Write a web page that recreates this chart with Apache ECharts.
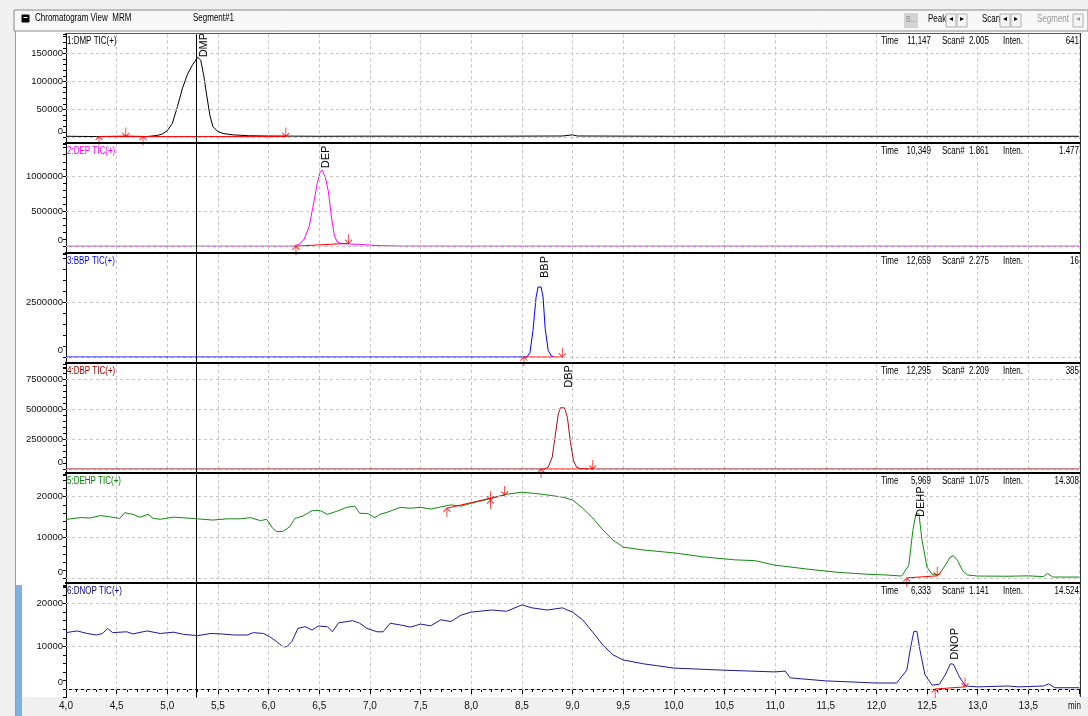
<!DOCTYPE html>
<html><head><meta charset="utf-8">
<script src="https://cdn.jsdelivr.net/npm/echarts@6/dist/echarts.min.js"></script>
<style>html,body{margin:0;padding:0;background:#f0f0f0}#c{width:1088px;height:716px}</style>
</head><body><div id="c"></div>
<script>
// ---------------- DATA ----------------
const panelNames = ['1:DMP TIC(+)','2:DEP TIC(+)','3:BBP TIC(+)','4:DBP TIC(+)','5:DEHP TIC(+)','6:DNOP TIC(+)'];
const panelTime = ['11,147','10,349','12,659','12,295','5,969','6,333'];
const panelScan = ['2.005','1.861','2.275','2.209','1.075','1.141'];
const panelInten = ['641','1.477','16','385','14.308','14.524'];
const yTickLabels = [
  [0,50000,100000,150000],
  [0,500000,1000000],
  [0,2500000],
  [0,2500000,5000000,7500000],
  [0,10000,20000],
  [0,10000,20000]
];
const yMin = [-10000,-100000,-500000,-500000,-2000,-2000];
const yMax = [184000,1450000,4680000,8750000,25500,24300];
const yStep = [10000,100000,500000,500000,2000,2000];
const cursorTime = 5.293;

const dmp = [[4.0,2000],[4.3,1500],[4.6,2200],[4.8,1500],[4.9,3500],[4.95,6000],[5.0,12000],[5.05,25000],[5.1,55000],[5.15,88000],[5.2,113000],[5.25,130000],[5.3,143000],[5.33,138000],[5.36,110000],[5.39,74000],[5.42,40000],[5.45,19000],[5.5,10500],[5.55,7000],[5.65,4500],[5.8,3000],[6.0,2500],[6.5,2000],[7.0,2200],[8.0,2000],[8.9,2500],[9.0,4500],[9.05,2500],[10.0,2000],[11.0,2200],[12.0,2000],[13.0,2000],[14.0,2000]];
const dep = [[4.0,5000],[5.0,5000],[6.0,5000],[6.25,5000],[6.3,30000],[6.35,100000],[6.4,280000],[6.45,650000],[6.48,900000],[6.51,1060000],[6.53,1080000],[6.56,980000],[6.59,780000],[6.62,420000],[6.65,150000],[6.68,60000],[6.72,40000],[6.8,35000],[6.9,30000],[7.0,20000],[7.1,12000],[7.3,6000],[8.0,5000],[14.0,5000]];
const bbp = [[4.0,0],[6.0,0],[8.0,0],[8.55,0],[8.58,200000],[8.61,1200000],[8.64,2700000],[8.66,3180000],[8.69,3180000],[8.71,2700000],[8.73,1300000],[8.76,300000],[8.79,50000],[8.82,0]];
const dbp = [[4.0,0],[6.0,0],[8.72,0],[8.76,150000],[8.8,1000000],[8.83,2800000],[8.86,4600000],[8.88,5100000],[8.92,5100000],[8.95,4300000],[8.98,2200000],[9.01,700000],[9.04,150000],[9.08,30000],[9.2,0],[14.0,0]];
const dehp = [[4.0,14450],[4.14,14900],[4.24,14800],[4.34,15400],[4.43,15100],[4.53,14700],[4.58,16100],[4.66,15700],[4.73,15000],[4.81,15700],[4.86,14700],[4.93,14500],[5.06,15000],[5.19,14800],[5.3,14600],[5.45,14300],[5.59,14600],[5.72,14600],[5.82,14900],[5.92,14150],[5.98,14500],[6.04,12300],[6.08,11500],[6.14,11500],[6.21,12700],[6.26,14700],[6.34,15300],[6.43,16600],[6.51,16600],[6.58,15700],[6.68,16500],[6.77,17400],[6.85,17700],[6.9,15950],[6.98,15900],[7.05,14900],[7.1,15700],[7.17,16200],[7.3,17400],[7.4,17200],[7.5,17400],[7.6,17000],[7.7,17500],[7.8,18000],[7.9,17700],[8.0,18400],[8.1,19000],[8.2,19600],[8.35,20600],[8.5,21100],[8.7,20600],[8.9,19900],[9.0,19200],[9.1,17200],[9.2,14800],[9.3,11900],[9.4,9400],[9.5,7700],[9.7,7000],[10.0,6300],[10.3,5300],[10.6,4600],[10.8,4400],[11.0,3300],[11.3,2400],[11.6,1600],[11.9,1100],[12.1,900],[12.25,650],[12.32,3300],[12.36,11800],[12.39,15800],[12.42,15800],[12.45,9400],[12.5,2800],[12.55,1100],[12.62,1000],[12.68,3300],[12.73,5300],[12.76,5600],[12.8,4500],[12.85,2000],[12.9,900],[13.0,650],[13.3,600],[13.5,700],[13.65,500],[13.69,1300],[13.74,400],[14.0,400]];
const dnop = [[4.0,13200],[4.11,13600],[4.21,13000],[4.3,12650],[4.36,13000],[4.41,14200],[4.46,13200],[4.6,13400],[4.66,12900],[4.8,13600],[4.93,13000],[5.06,13300],[5.16,12800],[5.3,12500],[5.43,13000],[5.53,12900],[5.66,12650],[5.79,12650],[5.85,13200],[5.95,13000],[6.01,12250],[6.08,11100],[6.14,9900],[6.18,9900],[6.23,11100],[6.29,14200],[6.36,14600],[6.43,13800],[6.49,14750],[6.58,14600],[6.63,13400],[6.69,15500],[6.83,16000],[6.9,15400],[6.97,14200],[7.07,13400],[7.13,13400],[7.2,15400],[7.3,15000],[7.4,14500],[7.5,15200],[7.6,14800],[7.7,16200],[7.8,15800],[7.9,17300],[8.0,18000],[8.2,18500],[8.35,18200],[8.5,19700],[8.6,19000],[8.75,18500],[8.9,19000],[9.0,18000],[9.1,16200],[9.2,13300],[9.3,10300],[9.4,8000],[9.5,6800],[9.7,5900],[10.0,4900],[10.5,4400],[11.0,4000],[11.1,4200],[11.15,2600],[11.5,1900],[12.0,1400],[12.2,1400],[12.3,4400],[12.34,10000],[12.37,13500],[12.4,13500],[12.43,9100],[12.48,3300],[12.55,900],[12.62,1100],[12.68,3300],[12.73,5900],[12.76,5800],[12.82,2800],[12.88,700],[13.0,500],[13.3,700],[13.4,500],[13.65,700],[13.7,1200],[13.76,300],[14.0,300]];
const traces = [dmp, dep, bbp, dbp, dehp, dnop];

// peak labels: [name, time, value]
const peakLabels = [['DMP',5.3,143000],['DEP',6.53,1080000],['BBP',8.675,3180000],['DBP',8.9,5100000],['DEHP',12.4,15800],['DNOP',12.75,5900]];
// integration marks
const upArrows = [[[4.326,1500],[4.76,1500]],[[6.27,5000]],[[8.52,0]],[[8.69,0]],[[7.76,17200],[8.19,19200],[12.3,200]],[[12.58,0]]];
const downArrows = [[[4.59,1500],[6.17,1500]],[[6.79,45000]],[[8.9,0]],[[9.2,0]],[[8.19,19200],[8.33,20400],[12.6,700]],[[12.875,500]]];
const baselines = [[[[4.326,1500],[6.17,1500]]],[[[6.27,5000],[6.79,45000]]],[[[8.52,0],[8.9,0]]],[[[8.69,0],[9.2,0]]],[[[7.76,17200],[8.33,20400]],[[12.3,200],[12.6,700]]],[[[12.58,0],[12.875,500]]]];

// ---------------- STYLE / LAYOUT ----------------
const colors = ['#000000','#ff00ff','#0000ff','#a01010','#108a10','#1a1a9a'];
const titleColors = ['#000000','#ff00ff','#0000ff','#a00000','#008000','#000080'];
const zeroPx = [137.4,246.5,357,469,578.7,689];
const pxPerUnit = [28/50000,35.3/500000,55/2500000,30/2500000,41/10000,42.7/10000];
const labelOffsets = [[6,0],[4,-2],[5,-9],[7,-20],[4,3],[3,-4]];
const panelTops = [33,143,253,363,473,583];
const LEFT = 66, RIGHT_PX = 1079;
const FONT = '"Liberation Sans",Arial,sans-serif';
const SX = 0.8;

const chart = echarts.init(document.getElementById('c'));
const grids=[], xAxes=[], yAxes=[], series=[], graphics=[];
function txt(x,y,text,fill,opts){
  const o = Object.assign({size:10,align:'left'},opts||{});
  graphics.push({type:'text',x:x,y:y,scaleX:SX,z:o.z||20,style:{text:text,font:o.size+'px '+FONT,fill:fill,align:o.align}});
}

graphics.push({type:'rect',shape:{x:16,y:31,width:1072,height:666},style:{fill:'#ffffff'},z:-10});
graphics.push({type:'rect',shape:{x:14,y:10,width:1074,height:21},style:{fill:'#f7f7f7',stroke:'#8a8a8a',lineWidth:1},z:-9});
graphics.push({type:'line',shape:{x1:15.5,y1:31,x2:15.5,y2:716},style:{stroke:'#9a9a9a',lineWidth:1},z:-8});
graphics.push({type:'rect',shape:{x:16,y:585,width:6,height:131},style:{fill:'#7fb0e0'},z:-8});
// header
graphics.push({type:'rect',shape:{x:22,y:15,width:7,height:7},style:{fill:'#000',stroke:'#000'},z:5});
graphics.push({type:'rect',shape:{x:23.5,y:17,width:4,height:1},style:{fill:'#fff'},z:6});
txt(35,13,'Chromatogram View  MRM','#000');
txt(193,13,'Segment#1','#000');
graphics.push({type:'rect',shape:{x:904,y:13,width:14,height:15},style:{fill:'#d4d4d4'},z:5});
txt(906,15,'B...','#8a8a8a',{size:9});
txt(928,14,'Peak','#000');
txt(982,14,'Scan','#000');
txt(1037,14,'Segment','#9a9a9a');
[[946,'◂'],[957,'▸'],[1000,'◂'],[1011,'▸'],[1073,'◂']].forEach(b=>{
  graphics.push({type:'rect',shape:{x:b[0],y:14,width:10,height:13},style:{fill:'#f4f4f4',stroke:'#b0b0b0'},z:21});
  graphics.push({type:'text',x:b[0]+5,y:15,z:22,style:{text:b[1],font:'8px '+FONT,fill:b[0]===1073?'#9a9a9a':'#000',align:'center'}});
});

for (let i=0;i<6;i++){
  const top = zeroPx[i]-yMax[i]*pxPerUnit[i];
  const height = (yMax[i]-yMin[i])*pxPerUnit[i];
  grids.push({left:LEFT,width:RIGHT_PX-LEFT,top:top,height:height});
  const last = i===5;
  xAxes.push({type:'value',gridIndex:i,min:4,max:14,interval:0.5,
    axisLine:{show:last,lineStyle:{color:'#000'}},
    axisTick:{show:last,length:5,lineStyle:{color:'#000'}},
    minorTick:{show:last,splitNumber:5,length:3,lineStyle:{color:'#000'}},
    axisLabel:{show:last,margin:4,fontSize:10,fontFamily:FONT,color:'#111',
      formatter:v=>(Math.abs(v-14)<1e-6?'':v.toFixed(1).replace('.',','))},
    splitLine:{show:true,lineStyle:{color:'#c4c4c4',type:[3,3],width:1}}});
  const labs = yTickLabels[i];
  yAxes.push({type:'value',gridIndex:i,min:yMin[i],max:yMax[i],interval:yStep[i],
    axisLine:{show:true,onZero:false,lineStyle:{color:'#000'}},
    axisTick:{show:true,length:3,lineStyle:{color:'#000'}},
    axisLabel:{fontSize:9.5,fontFamily:FONT,color:'#111',margin:3,
      rich:{z:{fontSize:9.5,fontFamily:FONT,color:'#111',padding:[0,0,13,0]}},
      formatter:v=>{
        if (!labs.some(l=>Math.abs(l-v)<yStep[i]*1e-3)) return '';
        return Math.abs(v)<yStep[i]*1e-3 ? '{z|0}' : String(Math.round(v));
      }},
    splitLine:{show:false}});
  const pl = peakLabels[i];
  series.push({type:'line',xAxisIndex:i,yAxisIndex:i,data:traces[i],symbol:'none',
    lineStyle:{color:colors[i],width:1},itemStyle:{color:colors[i]},z:3,animation:false,silent:true,
    markLine:{silent:true,symbol:'none',animation:false,label:{show:false},
      data:labs.map(v=>({yAxis:v,lineStyle:{color:'#c4c4c4',type:[3,3],width:1}})).concat([{xAxis:cursorTime,lineStyle:{color:'#000',type:'solid',width:1}}])},
    markPoint:{silent:true,animation:false,symbol:'circle',symbolSize:0,
      data:[{coord:[pl[1],pl[2]],name:pl[0]}],
      label:{show:true,formatter:'{b}',rotate:90,position:labelOffsets[i],align:'left',verticalAlign:'middle',
        fontSize:11,fontFamily:FONT,color:'#000'}}});
  baselines[i].forEach(seg=>{
    series.push({type:'line',xAxisIndex:i,yAxisIndex:i,data:seg,symbol:'none',lineStyle:{color:'#ff0000',width:1},z:4,animation:false,silent:true});
  });
  series.push({type:'scatter',xAxisIndex:i,yAxisIndex:i,data:upArrows[i],symbol:'path://M4,0 L4,10 M0,4 L4,0 L8,4',
    symbolSize:[7,9],symbolOffset:[0,4.5],itemStyle:{color:'rgba(0,0,0,0)',borderColor:'#ff0000',borderWidth:1},z:5,animation:false,silent:true});
  series.push({type:'scatter',xAxisIndex:i,yAxisIndex:i,data:downArrows[i],symbol:'path://M4,10 L4,0 M0,6 L4,10 L8,6',
    symbolSize:[7,9],symbolOffset:[0,-4.5],itemStyle:{color:'rgba(0,0,0,0)',borderColor:'#ff0000',borderWidth:1},z:5,animation:false,silent:true});
  // title & info
  const pt = panelTops[i];
  txt(67,pt+3,panelNames[i],titleColors[i]);
  txt(881,pt+3,'Time','#000');
  txt(931,pt+3,panelTime[i],'#000',{align:'right'});
  txt(942,pt+3,'Scan#','#000');
  txt(969,pt+3,panelScan[i],'#000');
  txt(1003,pt+3,'Inten.','#000');
  txt(1079,pt+3,panelInten[i],'#000',{align:'right'});
  if (i>0) graphics.push({type:'line',shape:{x1:65,y1:pt,x2:1081,y2:pt},style:{stroke:'#000',lineWidth:2},z:30});
}
graphics.push({type:'line',shape:{x1:65,y1:33.5,x2:1081,y2:33.5},style:{stroke:'#555',lineWidth:1},z:30});
graphics.push({type:'line',shape:{x1:1080.5,y1:33,x2:1080.5,y2:697},style:{stroke:'#333',lineWidth:1},z:30});
txt(1081,701,'min','#111',{align:'right'});

chart.setOption({animation:false,backgroundColor:'#f0f0f0',grid:grids,xAxis:xAxes,yAxis:yAxes,series:series,graphic:{elements:graphics}});
</script></body></html>
